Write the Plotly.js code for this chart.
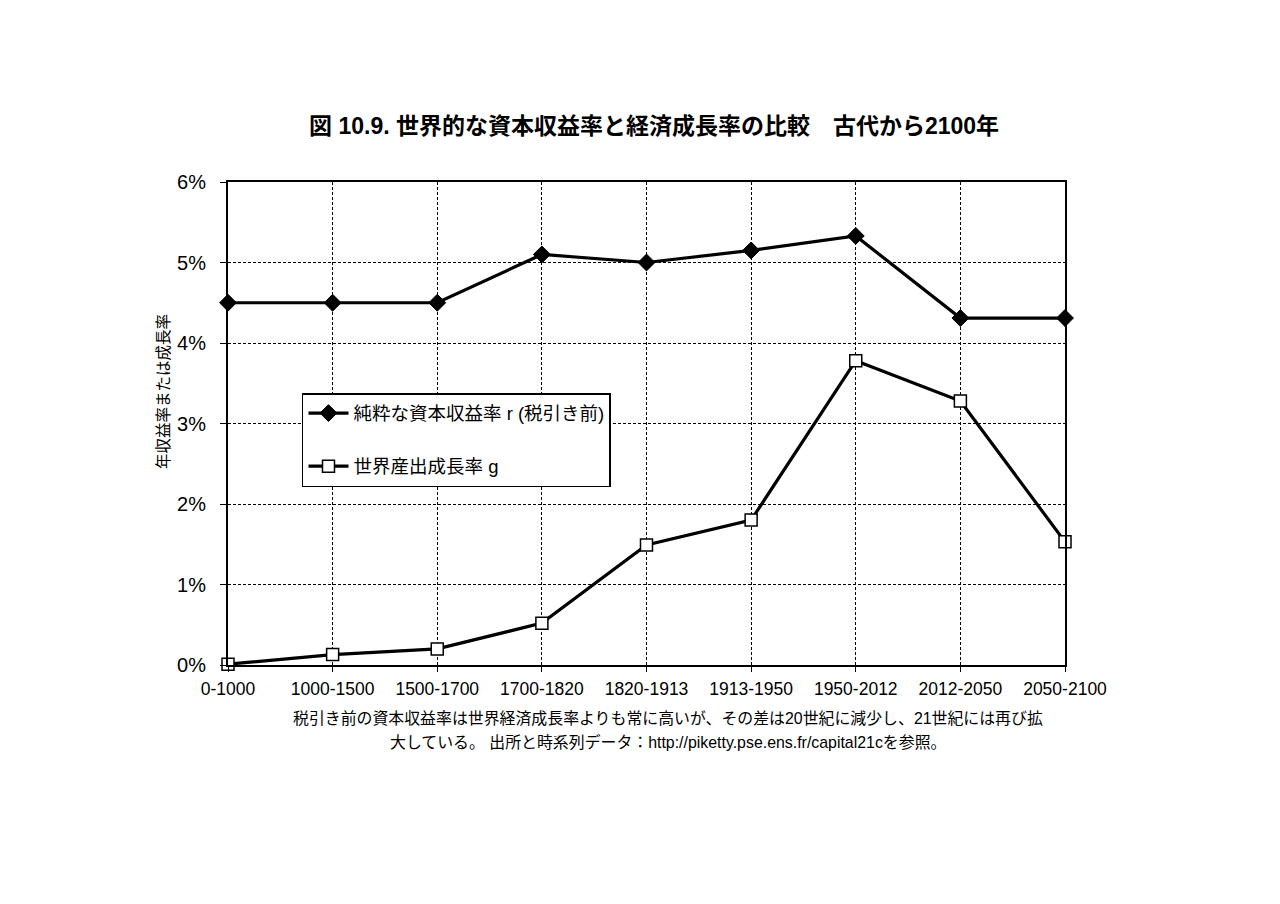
<!DOCTYPE html>
<html>
<head>
<meta charset="utf-8">
<script src="https://cdn.plot.ly/plotly-3.0.1.min.js"></script>
<style>html,body{margin:0;padding:0;background:#fff;}#chart{width:1280px;height:904px;}</style>
</head>
<body>
<div id="chart"></div>
<script>
const periods = ["0-1000","1000-1500","1500-1700","1700-1820","1820-1913","1913-1950","1950-2012","2012-2050","2050-2100"];
const returnRate = [0.045,0.045,0.045,0.051,0.050,0.0515,0.0533,0.0431,0.0431];
const growthRate = [0.0001,0.0013,0.0020,0.0052,0.0149,0.0180,0.0378,0.0328,0.0153];
const seriesNames = ["純粋な資本収益率 r (税引き前)","世界産出成長率 g"];
const yTickVals = [0,0.01,0.02,0.03,0.04,0.05,0.06];
const yTickText = ["0%","1%","2%","3%","4%","5%","6%"];
const yAxisTitle = "年収益率または成長率";

const FONT = "Liberation Sans, Arial, 'Noto Sans CJK JP', sans-serif";

const traces = [
  {x: periods, y: returnRate, name: seriesNames[0], type: "scatter", mode: "lines+markers",
   legendgroup: "a", cliponaxis: false,
   line: {color: "#000", width: 3.2},
   marker: {symbol: "diamond", size: 13, color: "#000", line: {color: "#000", width: 1}}},
  {x: periods, y: growthRate, name: seriesNames[1], type: "scatter", mode: "lines+markers",
   legendgroup: "b", cliponaxis: false,
   line: {color: "#000", width: 3.2},
   marker: {symbol: "square", size: 12, color: "#fff", line: {color: "#000", width: 1.5}}}
];

const layout = {
  width: 1280, height: 904,
  paper_bgcolor: "#fff", plot_bgcolor: "#fff",
  margin: {l: 228, r: 215, t: 182, b: 239},
  font: {family: FONT, color: "#000"},
  title: {text: "<b>図 10.9. 世界的な資本収益率と経済成長率の比較　古代から2100年</b>",
          font: {size: 23, family: FONT, color: "#000"},
          x: 0.511, xanchor: "center", y: 0.861, yanchor: "middle", yref: "container"},
  xaxis: {type: "category", range: [0, 8], showline: true, mirror: true, linecolor: "#000", linewidth: 2,
          showgrid: true, gridcolor: "#000", gridwidth: 1, griddash: "3px,2px",
          ticks: "outside", ticklen: 5, tickcolor: "#000", tickwidth: 1, ticklabelstandoff: 2,
          tickfont: {size: 17.5, family: FONT}, zeroline: false, fixedrange: true},
  yaxis: {range: [0, 0.06], tickvals: yTickVals, ticktext: yTickText,
          showline: true, mirror: true, linecolor: "#000", linewidth: 2,
          showgrid: true, gridcolor: "#000", gridwidth: 1, griddash: "3px,2px",
          ticks: "outside", ticklen: 6, tickcolor: "#000", tickwidth: 1, ticklabelstandoff: 10,
          tickfont: {size: 20, family: FONT}, zeroline: false},
  showlegend: true,
  legend: {x: 0.0884, y: 0.563, xanchor: "left", yanchor: "top",
           bgcolor: "#fff", bordercolor: "#000", borderwidth: 1.5,
           font: {size: 18.5, family: FONT}, itemwidth: 40, traceorder: "grouped", tracegroupgap: 26},
  annotations: [
    {xref: "paper", yref: "paper", x: (163-228)/837, y: (665-392)/483, xanchor: "center", yanchor: "middle",
     textangle: -90, showarrow: false, font: {size: 15.5, family: FONT}, text: yAxisTitle},
    {xref: "paper", yref: "paper", x: 0.526, y: (665-718)/483, xanchor: "center", yanchor: "middle",
     showarrow: false, font: {size: 15.9, family: FONT},
     text: "税引き前の資本収益率は世界経済成長率よりも常に高いが、その差は20世紀に減少し、21世紀には再び拡"},
    {xref: "paper", yref: "paper", x: 0.526, y: (665-742)/483, xanchor: "center", yanchor: "middle",
     showarrow: false, font: {size: 15.9, family: FONT},
     text: "大している。 出所と時系列データ：http://piketty.pse.ens.fr/capital21cを参照。"}
  ]
};

Plotly.newPlot("chart", traces, layout, {displayModeBar: false, staticPlot: true});
</script>
</body>
</html>
